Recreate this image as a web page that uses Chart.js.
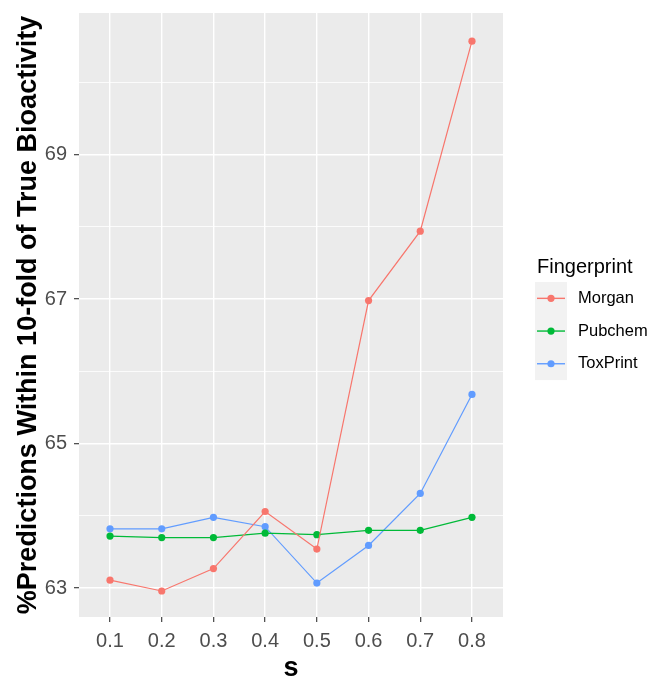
<!DOCTYPE html>
<html>
<head>
<meta charset="utf-8">
<script src="https://cdn.jsdelivr.net/npm/chart.js@4"></script>
<style>
  html, body { margin: 0; padding: 0; background: #fff; }
  #wrap { width: 658px; height: 678px; }
</style>
</head>
<body>
<div id="wrap"><canvas id="c" width="658" height="678"></canvas></div>
<script>
const categories = [0.1, 0.2, 0.3, 0.4, 0.5, 0.6, 0.7, 0.8];
const morgan   = [63.11, 62.96, 63.27, 64.06, 63.54, 66.98, 67.94, 70.57];
const pubchem  = [63.72, 63.70, 63.70, 63.76, 63.74, 63.80, 63.80, 63.98];
const toxprint = [63.82, 63.82, 63.98, 63.85, 63.07, 63.59, 64.31, 65.68];
const yTicks = [63, 64, 65, 66, 67, 68, 69, 70];
const yLabelTicks = [63, 65, 67, 69];
const seriesNames = ['Morgan', 'Pubchem', 'ToxPrint'];
const seriesColors = ['#F8766D', '#00BA38', '#619CFF'];

const FONT = 'Liberation Sans, Arial, sans-serif';

function pts(vals) { return categories.map((c, i) => ({ x: c, y: vals[i] })); }

const seriesVals = [morgan, pubchem, toxprint];
const datasets = seriesNames.map((n, i) => ({
  label: n,
  data: pts(seriesVals[i]),
  borderColor: seriesColors[i],
  backgroundColor: seriesColors[i],
  borderWidth: 1.2,
  pointRadius: 3.6,
  pointHoverRadius: 3.6,
  pointBorderWidth: 0,
  tension: 0
}));

const panelBg = {
  id: 'panelBg',
  beforeDraw(chart) {
    const { ctx, chartArea: a } = chart;
    ctx.save();
    ctx.fillStyle = '#EBEBEB';
    ctx.fillRect(a.left, a.top, a.right - a.left, a.bottom - a.top);
    ctx.restore();
  }
};

const legendPlugin = {
  id: 'ggLegend',
  afterDraw(chart) {
    const ctx = chart.ctx;
    ctx.save();
    ctx.fillStyle = '#000';
    ctx.font = '20px ' + FONT;
    ctx.textBaseline = 'alphabetic';
    ctx.textAlign = 'left';
    ctx.fillText('Fingerprint', 537, 273);
    const keyX = 535, keyW = 32, keyTop = 282, keyH = 32.7;
    ctx.fillStyle = '#F2F2F2';
    ctx.fillRect(keyX, keyTop, keyW, keyH * chart.data.datasets.length);
    chart.data.datasets.forEach((ds, i) => {
      const cy = keyTop + keyH * i + keyH / 2;
      ctx.strokeStyle = ds.borderColor;
      ctx.lineWidth = 1.4;
      ctx.beginPath();
      ctx.moveTo(keyX + 2, cy);
      ctx.lineTo(keyX + keyW - 2, cy);
      ctx.stroke();
      ctx.fillStyle = ds.backgroundColor;
      ctx.beginPath();
      ctx.arc(keyX + keyW / 2, cy, 3.6, 0, Math.PI * 2);
      ctx.fill();
      ctx.fillStyle = '#000';
      ctx.font = '16.5px ' + FONT;
      ctx.textBaseline = 'middle';
      ctx.fillText(ds.label, 578, cy);
    });
    ctx.restore();
  }
};

new Chart(document.getElementById('c'), {
  type: 'line',
  data: { datasets },
  plugins: [panelBg, legendPlugin],
  options: {
    responsive: false,
    animation: false,
    devicePixelRatio: 1,
    layout: { padding: { left: 0, top: 13, right: 155, bottom: 0 } },
    plugins: { legend: { display: false }, tooltip: { enabled: false } },
    scales: {
      x: {
        type: 'linear',
        min: 0.04,
        max: 0.86,
        afterBuildTicks(scale) { scale.ticks = categories.map(v => ({ value: v })); },
        afterFit(scale) { scale.height = 61; scale.paddingLeft = 0; scale.paddingRight = 0; },
        border: { display: false },
        grid: {
          color: '#FFFFFF',
          lineWidth: 1.4,
          drawTicks: true,
          tickLength: 5,
          tickColor: '#333333',
          tickWidth: 1.1
        },
        ticks: {
          padding: 7,
          color: '#4D4D4D',
          font: { family: FONT, size: 20 },
          maxRotation: 0,
          autoSkip: false,
          callback: (v) => Number(v).toFixed(1)
        },
        title: {
          display: true,
          text: 's',
          color: '#000',
          font: { family: FONT, size: 27, weight: 'bold', lineHeight: 1 },
          padding: { top: 0, bottom: -4 }
        }
      },
      y: {
        type: 'linear',
        min: 62.6,
        max: 70.96,
        afterBuildTicks(scale) { scale.ticks = yTicks.map(v => ({ value: v })); },
        afterFit(scale) { scale.width = 79; scale.paddingTop = 0; scale.paddingBottom = 0; },
        border: { display: false },
        grid: {
          color: '#FFFFFF',
          lineWidth: (c) => (c.tick && yLabelTicks.includes(c.tick.value)) ? 1.4 : 0.8,
          drawTicks: true,
          tickLength: 5,
          tickColor: (c) => (c.tick && yLabelTicks.includes(c.tick.value)) ? '#333333' : 'rgba(0,0,0,0)',
          tickWidth: 1.1
        },
        ticks: {
          padding: 7,
          color: '#4D4D4D',
          font: { family: FONT, size: 20 },
          autoSkip: false,
          callback: (v) => yLabelTicks.includes(v) ? String(v) : ''
        },
        title: {
          display: true,
          text: '%Predictions Within 10-fold of True Bioactivity',
          color: '#000',
          font: { family: FONT, size: 27, weight: 'bold', lineHeight: 1 },
          padding: { top: 15, bottom: 0 }
        }
      }
    }
  }
});
</script>
</body>
</html>
